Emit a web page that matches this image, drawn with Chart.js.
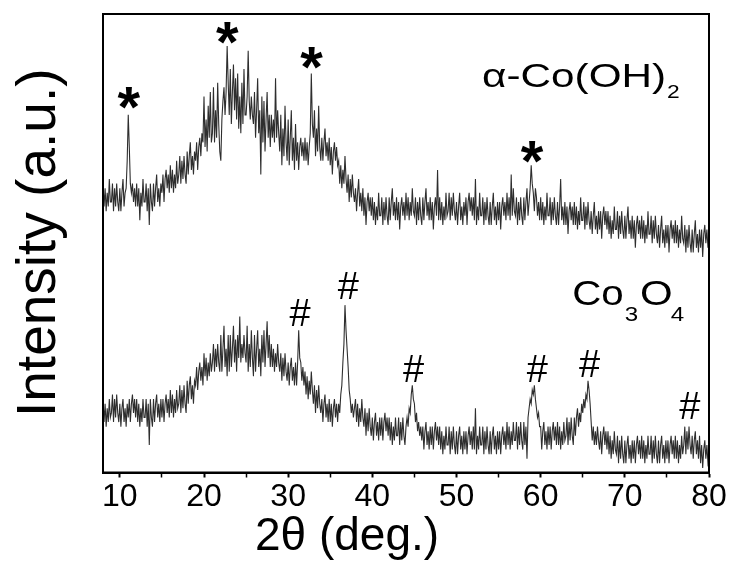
<!DOCTYPE html>
<html>
<head>
<meta charset="utf-8">
<script src="https://cdn.jsdelivr.net/npm/chart.js@4.4.1/dist/chart.umd.min.js"></script>
<style>
  html, body { margin: 0; padding: 0; background: #fff; }
  #wrap { width: 732px; height: 565px; }
</style>
</head>
<body>
<div id="wrap"><canvas id="xrd" width="732" height="565"></canvas></div>
<script>
// scan grid: 8 to 80 deg, 0.125 deg per point
const ANGLE_START = 8;
const ANGLE_STEP = 0.125;

// alpha-Co(OH)2 trace, one row of eight points per degree (8.000 ... 8.875, 9.000 ...)
const alphaCoOH2 = [
  63, 58, 62, 57, 61, 58, 64, 59,   59, 63, 57, 62, 58, 63, 59, 57,
  62, 57, 61, 64, 58, 61, 62, 68,   78, 71, 63, 61, 63, 59, 62, 58,
  63, 58, 62, 55, 61, 58, 64, 59,   59, 63, 57, 62, 54, 63, 59, 57,
  63, 58, 62, 65, 59, 62, 58, 63,   61, 65, 59, 64, 66, 62, 65, 61,
  67, 62, 66, 61, 65, 62, 68, 63,   65, 69, 63, 68, 64, 69, 65, 63,
  70, 65, 69, 72, 66, 69, 65, 70,   68, 72, 66, 71, 73, 69, 74, 72,
  82, 71, 77, 70, 80, 73, 83, 72,   74, 84, 72, 79, 73, 85, 76, 70,
  68, 77, 81, 84, 78, 83, 93, 85,   78, 88, 76, 83, 89, 79, 86, 77,
  87, 75, 82, 74, 85, 76, 88, 78,   78, 82, 92, 81, 77, 82, 78, 76,
  83, 73, 79, 86, 74, 79, 65, 82,   72, 81, 70, 77, 83, 73, 78, 71,
  78, 73, 77, 72, 86, 73, 79, 74,   70, 78, 67, 75, 69, 80, 72, 68,
  77, 67, 73, 79, 68, 73, 66, 76,   68, 72, 66, 71, 73, 69, 72, 68,
  73, 68, 72, 67, 71, 74, 87, 76,   73, 79, 69, 75, 70, 80, 71, 68,
  73, 68, 72, 75, 69, 72, 68, 73,   67, 71, 65, 70, 72, 68, 71, 67,
  68, 63, 67, 62, 66, 63, 69, 64,   61, 65, 59, 64, 60, 65, 61, 59,
  62, 57, 61, 64, 58, 61, 57, 62,   56, 60, 54, 59, 61, 57, 60, 56,
  60, 55, 59, 54, 58, 55, 61, 56,   56, 60, 54, 59, 55, 60, 56, 54,
  60, 55, 59, 62, 56, 59, 55, 60,   55, 59, 53, 58, 60, 56, 59, 55,
  61, 56, 60, 55, 59, 56, 62, 57,   56, 60, 54, 59, 55, 60, 56, 54,
  60, 55, 59, 62, 56, 59, 55, 60,   55, 59, 53, 58, 60, 56, 66, 55,
  60, 55, 59, 54, 58, 55, 61, 56,   57, 61, 55, 60, 56, 61, 57, 55,
  59, 54, 58, 61, 55, 58, 54, 59,   56, 60, 54, 59, 61, 57, 60, 56,
  60, 55, 64, 54, 58, 55, 61, 56,   56, 60, 54, 59, 55, 60, 56, 54,
  59, 54, 58, 61, 55, 58, 54, 59,   55, 59, 53, 58, 60, 56, 59, 55,
  61, 56, 60, 55, 65, 56, 62, 57,   56, 60, 54, 59, 55, 60, 56, 54,
  60, 55, 59, 62, 56, 59, 62, 67,   63, 61, 57, 62, 60, 56, 59, 55,
  60, 55, 59, 54, 58, 55, 61, 56,   56, 60, 54, 59, 55, 60, 56, 54,
  59, 54, 58, 64, 55, 58, 54, 59,   54, 58, 52, 57, 59, 55, 58, 54,
  59, 54, 58, 53, 57, 54, 60, 55,   55, 59, 53, 58, 54, 59, 55, 53,
  57, 52, 56, 59, 53, 56, 52, 57,   53, 57, 51, 56, 58, 54, 57, 53,
  57, 52, 56, 51, 55, 52, 58, 53,   53, 57, 51, 56, 52, 57, 53, 51,
  56, 51, 55, 58, 52, 55, 51, 56,   51, 55, 49, 54, 56, 52, 55, 51,
  56, 51, 55, 50, 54, 51, 57, 52,   52, 56, 50, 55, 51, 56, 52, 50,
  54, 49, 53, 56, 50, 53, 49, 54,   50, 54, 48, 53, 55, 51, 54, 50,
  55, 50, 54, 49, 53, 50, 56, 51,   50, 54, 48, 53, 49, 54, 50, 48,
  53, 48, 52, 55, 49, 52, 48, 53,   49, 53, 47, 52, 54, 50, 53, 49,
  51
];

// Co3O4 trace, same grid
const co3o4 = [
  16, 11, 15, 10, 14, 11, 16, 12,   13, 17, 11, 16, 12, 17, 13, 11,
  15, 10, 14, 16, 11, 14, 10, 15,   12, 16, 11, 15, 17, 13, 16, 12,
  16, 11, 15, 10, 14, 11, 16, 12,   12, 16, 10, 15,  6, 16, 12, 10,
  16, 11, 15, 17, 12, 15, 11, 16,   12, 16, 11, 15, 17, 13, 16, 12,
  18, 13, 17, 12, 16, 13, 18, 14,   15, 19, 13, 18, 14, 19, 15, 13,
  20, 15, 19, 21, 16, 19, 15, 20,   19, 23, 18, 22, 24, 20, 23, 19,
  26, 21, 25, 20, 24, 21, 26, 22,   24, 28, 22, 27, 23, 28, 24, 22,
  30, 22, 27, 32, 23, 27, 21, 30,   22, 30, 23, 27, 32, 24, 29, 22,
  30, 25, 34, 24, 28, 25, 30, 26,   24, 32, 22, 28, 23, 31, 25, 21,
  30, 22, 27, 31, 23, 27, 21, 30,   24, 31, 23, 28, 33, 25, 30, 23,
  28, 23, 27, 22, 26, 23, 28, 24,   22, 26, 20, 25, 21, 26, 22, 20,
  24, 19, 23, 25, 20, 23, 19, 24,   19, 24, 31, 25, 24, 20, 23, 19,
  22, 17, 21, 16, 20, 17, 22, 18,   15, 19, 13, 18, 14, 19, 15, 13,
  16, 11, 15, 17, 12, 15, 11, 16,   11, 15, 10, 14, 16, 12, 15, 11,
  15, 13, 17, 19, 24, 28, 36.5, 31, 27, 23, 18, 16, 13, 15, 12, 14,
  16, 11, 15, 10, 14, 11, 16, 12,   10, 14,  8, 13,  9, 14, 10,  8,
  12,  7, 11, 13,  8, 11,  7, 12,    8, 12,  7, 11, 13,  9, 12,  8,
  12,  7, 11,  6, 10,  7, 12,  8,    8, 12,  6, 11,  7, 12,  8,  6,
  10, 12, 10, 14, 13, 17, 19, 16,   15, 11, 13,  9, 11,  8, 10,  7,
  10,  5,  9, 11,  6,  9,  5, 10,    6, 10,  5,  9, 11,  7, 10,  6,
  10,  5,  9,  4,  8,  5, 10,  6,    6, 10,  4,  9,  5, 10,  6,  4,
   9,  4,  8, 10,  5,  8,  4,  9,    5,  9,  4,  8, 10,  6,  9,  5,
  10,  5, 14,  4,  8,  5, 10,  6,    6, 10,  4,  9,  5, 10,  6,  4,
   9,  4,  8, 10,  5,  8,  4,  9,    5,  9,  4,  8, 10,  6,  9,  5,
  11,  6, 10,  5,  9,  6, 11,  7,    7, 11,  5, 10,  6, 11,  7,  5,
  11,  6, 10,  3, 12, 14, 16, 15,   18, 17, 19, 16, 14, 12, 13, 10,
  10,  5,  9, 11,  6,  9,  5, 10,    6, 10,  5,  9, 11,  7, 10,  6,
  11,  6, 10,  5,  9,  6, 11,  7,    8, 12,  6, 11,  7, 12,  8,  6,
  12,  8, 12, 14, 10, 13, 11, 15,   13, 16, 14, 17, 16, 20, 18, 15,
  11,  7, 10,  6,  9,  6, 10,  7,    5,  9,  4,  8, 10,  6,  9,  5,
   9,  4,  8,  3,  7,  4,  9,  5,    4,  8,  2,  7,  3,  8,  4,  2,
   7,  2,  6,  8,  3,  6,  2,  7,    3,  7,  2,  6,  8,  4,  7,  3,
   8,  3,  7,  2,  6,  3,  8,  4,    4,  8,  2,  7,  3,  8,  4,  2,
   7,  2,  6,  8,  3,  6,  2,  7,    3,  7,  2,  6,  8,  4,  7,  3,
   8,  3,  7,  2,  6,  3,  8,  4,    6, 10,  4,  9,  5, 10,  6,  4,
   8,  3,  7,  9,  4,  7,  3,  8,    2,  6,  1,  5,  7,  3,  6,  2,
   3
];

const xTicks = [10, 15, 20, 25, 30, 35, 40, 45, 50, 55, 60, 65, 70, 75, 80];

// peak markers at [2theta, intensity]
const alphaPeaks = [[11.1, 81.7], [22.8, 95.9], [32.8, 90.4], [59.0, 69.9]];
const co3o4Peaks = [[31.4, 35.0], [37.15, 40.8], [44.9, 22.6], [59.6, 22.7], [65.8, 23.8], [77.7, 14.6]];

const FONT = '"Liberation Sans", Arial, Helvetica, sans-serif';

const twoTheta = alphaCoOH2.map((_, i) => ANGLE_START + i * ANGLE_STEP);
const toPoints = (vals) => vals.map((y, i) => ({ x: twoTheta[i], y }));

const traceStyle = {
  borderColor: 'rgba(0, 0, 0, 0.82)',
  borderWidth: 1.1,
  pointRadius: 0,
  tension: 0,
  fill: false,
};

// draws a glyph centred on a point
function drawCentered(ctx, text, px, py) {
  const m = ctx.measureText(text);
  const w = m.actualBoundingBoxRight + m.actualBoundingBoxLeft;
  const h = m.actualBoundingBoxAscent + m.actualBoundingBoxDescent;
  ctx.fillText(text, px - w / 2 + m.actualBoundingBoxLeft, py + h / 2 - m.actualBoundingBoxDescent);
}

// one run of text, stretched horizontally
function drawRun(ctx, text, x, baseline, size, stretch) {
  ctx.save();
  ctx.font = `${size}px ${FONT}`;
  ctx.translate(x, baseline);
  ctx.scale(stretch, 1);
  ctx.fillText(text, 0, 0);
  const w = ctx.measureText(text).width * stretch;
  ctx.restore();
  return x + w;
}

const decorations = {
  id: 'decorations',
  afterDraw(chart) {
    const { ctx, chartArea, scales } = chart;
    const sx = scales.x, sy = scales.y;
    ctx.save();
    ctx.fillStyle = '#000';
    ctx.strokeStyle = '#000';

    // frame
    ctx.lineWidth = 2;
    ctx.strokeRect(chartArea.left, chartArea.top, chartArea.right - chartArea.left, chartArea.bottom - chartArea.top);

    ctx.textAlign = 'left';
    ctx.textBaseline = 'alphabetic';

    ctx.font = `bold 58px ${FONT}`;
    alphaPeaks.forEach(([x, y]) => drawCentered(ctx, '*', sx.getPixelForValue(x), sy.getPixelForValue(y)));

    ctx.font = `38px ${FONT}`;
    co3o4Peaks.forEach(([x, y]) => drawCentered(ctx, '#', sx.getPixelForValue(x), sy.getPixelForValue(y)));

    // sample names
    let x = sx.getPixelForValue(53.04);
    let base = sy.getPixelForValue(84.1);
    x = drawRun(ctx, 'α-Co(OH)', x, base, 33, 1.28);
    drawRun(ctx, '2', x + 1, base + 11, 19, 1.2);

    x = sx.getPixelForValue(63.75);
    base = sy.getPixelForValue(36.5);
    x = drawRun(ctx, 'Co', x, base, 35, 1.15);
    x = drawRun(ctx, '3', x + 1, base + 16, 21, 1.15);
    x = drawRun(ctx, 'O', x + 2, base, 35, 1.2);
    drawRun(ctx, '4', x - 2, base + 16, 21, 1.15);

    // axis titles
    ctx.font = `46px ${FONT}`;
    ctx.fillText('2θ (deg.)', 255, 550);

    ctx.translate(55, 417);
    ctx.rotate(-Math.PI / 2);
    ctx.font = `55px ${FONT}`;
    ctx.fillText('Intensity (a.u.)', 0, 0);
    ctx.restore();
  },
};

new Chart(document.getElementById('xrd'), {
  type: 'line',
  data: {
    datasets: [
      { label: 'α-Co(OH)2', data: toPoints(alphaCoOH2), ...traceStyle },
      { label: 'Co3O4', data: toPoints(co3o4), ...traceStyle },
    ],
  },
  options: {
    responsive: false,
    animation: false,
    layout: { padding: { left: 103, right: 23, top: 14, bottom: 52.5 } },
    plugins: { legend: { display: false }, tooltip: { enabled: false } },
    scales: {
      x: {
        type: 'linear',
        min: 8,
        max: 80,
        afterBuildTicks: (scale) => { scale.ticks = xTicks.map((value) => ({ value })); },
        afterFit: (scale) => { scale.height = 40; },
        ticks: {
          autoSkip: false,
          maxRotation: 0,
          padding: 0,
          color: '#000',
          font: { family: FONT, size: 32 },
          callback: (v) => (v % 10 === 0 ? String(v) : ''),
        },
        grid: {
          drawOnChartArea: false,
          tickLength: 5,
          tickColor: '#000',
          tickWidth: (c) => (c.tick && c.tick.value % 10 === 0 ? 2 : 1.5),
        },
        border: { display: true, color: '#000', width: 2 },
      },
      y: { display: false, min: 0, max: 100 },
    },
  },
  plugins: [decorations],
});
</script>
</body>
</html>
